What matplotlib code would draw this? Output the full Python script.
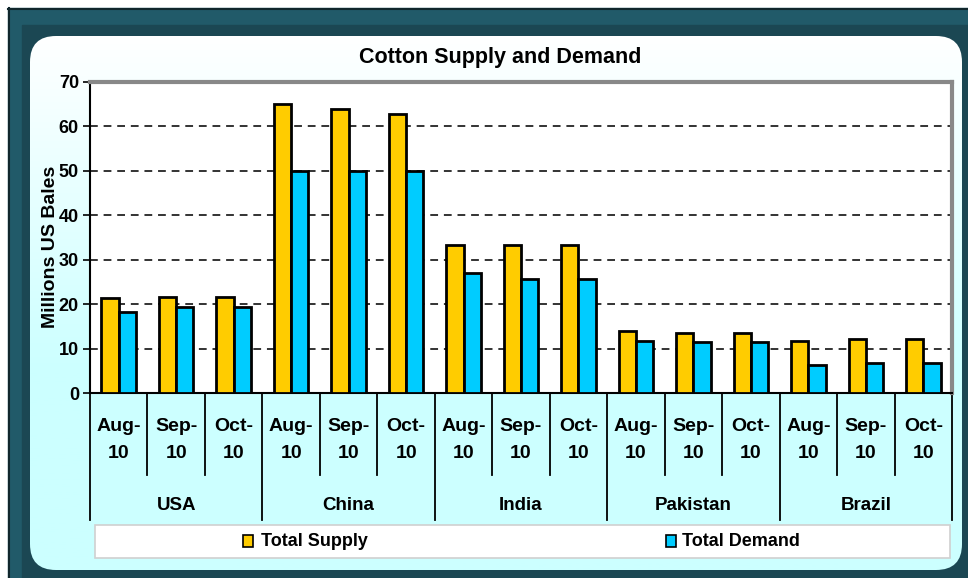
import numpy as np
import matplotlib
matplotlib.use("Agg")
import matplotlib.pyplot as plt
from matplotlib.patches import FancyBboxPatch, Rectangle
import matplotlib.transforms as mtransforms

plt.rcParams['font.family'] = ['Liberation Sans', 'DejaVu Sans']

countries = ["USA", "China", "India", "Pakistan", "Brazil"]
months = ["Aug-\n10", "Sep-\n10", "Oct-\n10"]
total_supply = [21.4, 21.7, 21.7, 65.0, 64.0, 62.8, 33.4, 33.4, 33.4,
                14.0, 13.6, 13.6, 11.7, 12.2, 12.2]
total_demand = [18.2, 19.3, 19.3, 50.0, 50.0, 50.0, 27.0, 25.7, 25.7,
                11.7, 11.4, 11.4, 6.3, 6.7, 6.7]

W, H = 968, 578
fig = plt.figure(figsize=(W / 100, H / 100), dpi=100)
fig.patch.set_facecolor("white")

# background frame in pixel coords
bg = fig.add_axes([0, 0, 1, 1])
bg.set_xlim(0, W)
bg.set_ylim(H, 0)
bg.axis("off")
bg.add_patch(Rectangle((8, 8), W, H, color="#215a69"))
bg.plot([8, W], [8.5, 8.5], color="#10262c", lw=1.5)
bg.plot([8.5, 8.5], [8, H], color="#10262c", lw=1.5)
bg.add_patch(Rectangle((22, 25), W, H, color="#1b4753"))
panel = FancyBboxPatch((30, 36), 932, 534, boxstyle="round,pad=0,rounding_size=26",
                       facecolor="none", edgecolor="none")
bg.add_patch(panel)
grad = np.linspace(0, 1, 256).reshape(-1, 1)
grad = np.clip(grad * 1.6, 0, 1)
top = np.array([1.0, 1.0, 1.0])
bot = np.array([0.80, 1.0, 1.0])
img = top + (bot - top) * grad[..., None]
im = bg.imshow(img, extent=(30, 962, 570, 36), aspect="auto", zorder=1)
im.set_clip_path(panel)

# main plot area
ax = fig.add_axes([90 / W, (H - 393) / H, 862 / W, 311 / H])
ax.set_facecolor("white")
n = len(total_supply)
x = np.arange(n)
ax.bar(x - 0.15, total_supply, width=0.3, color="#ffcc00", edgecolor="black",
       linewidth=2, zorder=3, label="Total Supply")
ax.bar(x + 0.15, total_demand, width=0.3, color="#00ccff", edgecolor="black",
       linewidth=2, zorder=3, label="Total Demand")
ax.set_xlim(-0.5, n - 0.5)
ax.set_ylim(0, 70)
ax.set_yticks(range(0, 71, 10))
ax.tick_params(axis="y", labelsize=13, length=5, width=1.2, pad=3)
for lbl in ax.get_yticklabels():
    lbl.set_fontweight("bold")
ax.set_xticks([])
for v in range(10, 70, 10):
    ax.axhline(v, color="#333333", lw=1.4, ls=(0, (4, 3)), zorder=1)
ax.spines["top"].set_color("#888888")
ax.spines["top"].set_linewidth(3)
ax.spines["right"].set_color("#888888")
ax.spines["right"].set_linewidth(3)
ax.spines["left"].set_linewidth(1.5)
ax.spines["bottom"].set_linewidth(1.5)
ax.set_ylabel("Millions US Bales", fontsize=14, fontweight="bold")
ax.yaxis.set_label_coords(-0.036, 0.47)
fig.text(500 / W, 1 - 58 / H, "Cotton Supply and Demand", ha="center", va="center",
         fontsize=15.5, fontweight="bold")

# category table below the axis
tr = mtransforms.blended_transform_factory(ax.transData, ax.transAxes)
def yf(py):
    return (393 - py) / 311

ax.add_patch(Rectangle((-0.5, yf(520)), n, yf(393) - yf(520), transform=tr,
                       facecolor="#ccffff", edgecolor="none", clip_on=False, zorder=0))
for i in range(n):
    ax.text(i, yf(440), months[i % 3], transform=tr, ha="center", va="center",
            fontsize=14, fontweight="bold", linespacing=1.8, clip_on=False)
for i in range(n + 1):
    bottom = yf(520) if i % 3 == 0 else yf(475)
    ax.plot([i - 0.5, i - 0.5], [0, bottom], transform=tr, color="black",
            lw=1.3, clip_on=False)
for j, c in enumerate(countries):
    ax.text(3 * j + 1, yf(505), c, transform=tr, ha="center", va="center",
            fontsize=13.5, fontweight="bold", clip_on=False)

# legend box
bg.add_patch(Rectangle((95, 525), 855, 33, facecolor="white", edgecolor="#d0d0d0",
                       lw=1.2, zorder=5))
bg.add_patch(Rectangle((243, 535), 10, 12, facecolor="#ffcc00", edgecolor="black",
                       lw=1.2, zorder=6))
bg.text(261, 541, "Total Supply", fontsize=13, fontweight="bold", va="center", zorder=6)
bg.add_patch(Rectangle((666, 535), 10, 12, facecolor="#00ccff", edgecolor="black",
                       lw=1.2, zorder=6))
bg.text(682, 541, "Total Demand", fontsize=13, fontweight="bold", va="center", zorder=6)

fig.savefig("out.png", dpi=100)
